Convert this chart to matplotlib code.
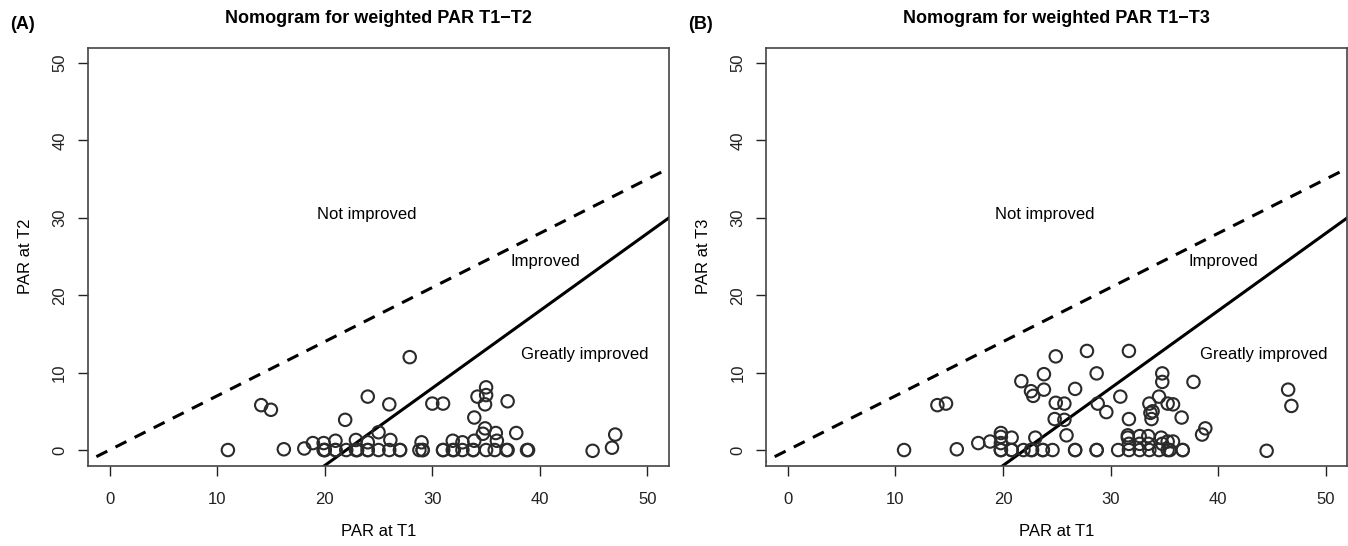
import matplotlib
matplotlib.use("Agg")
import matplotlib.pyplot as plt

plt.rcParams['font.family'] = ['Liberation Sans', 'DejaVu Sans']

# Panel A: PAR at T1 vs PAR at T2
t1_a = [11, 14.1, 15, 16.2, 18.1, 18.9, 19.9, 21, 21.9, 22.9,
        24, 26, 27.9, 30, 31, 34.2, 35, 35, 34.9, 33.9,
        34.9, 34.7, 25, 24, 26.1, 29, 31.9, 32.8, 33.9, 37,
        35.9, 36, 37.8, 47, 46.7, 44.9,
        19.9, 20, 20, 21, 21, 22, 22.9, 23, 23, 24,
        24, 25, 26, 27, 27, 28.8, 29.1, 29.1, 31, 31,
        31.9, 32, 32.8, 33.8, 33.8, 35, 35.8, 36.9, 37, 38.8, 38.9]
t2_a = [0, 5.8, 5.2, 0.1, 0.2, 0.9, 0.9, 1.2, 3.9, 1.3,
        6.9, 5.9, 12.0, 6.0, 6.0, 6.9, 8.1, 7.1, 5.9, 4.2,
        2.8, 2.1, 2.3, 1.0, 1.3, 1.0, 1.2, 1.0, 1.2, 6.3,
        2.2, 1.2, 2.2, 2.0, 0.3, -0.1,
        0, 0, 0, 0, 0, 0, 0, 0, 0, 0,
        0, 0, 0, 0, 0, 0, 0, 0, 0, 0,
        0, 0, 0, 0, 0, 0, 0, 0, 0, 0, 0]

# Panel B: PAR at T1 vs PAR at T3
t1_b = [10.8, 13.9, 14.7, 15.7, 17.7, 18.8, 19.8, 19.8, 19.8, 20.8,
        21.7, 22.6, 22.8, 23.8, 23.8, 24.9, 27.8, 31.7, 28.7, 26.7,
        24.9, 25.7, 28.8, 29.6, 30.9, 24.8, 25.7, 25.9, 23, 31.7,
        31.6, 31.6, 32.7, 33.5, 33.6, 33.9, 33.7, 33.8, 34.5, 34.8,
        34.8, 35.3, 34.7, 31.7, 32.7, 33.5, 34.8, 37.7, 35.8, 36.6,
        38.8, 38.5, 35.8, 35.3, 44.5, 46.5, 46.8,
        19.8, 19.8, 20.8, 20.8, 21.9, 22.6, 22.7, 23.7, 23.7, 24.6,
        26.7, 26.7, 28.7, 28.7, 30.7, 31.7, 32.7, 33.6, 34.5, 35.3,
        35.5, 36.7, 36.7]
t3_b = [0, 5.8, 6.0, 0.1, 0.9, 1.1, 2.2, 1.7, 0.9, 1.6,
        8.9, 7.6, 7.0, 9.8, 7.8, 12.1, 12.8, 12.8, 9.9, 7.9,
        6.1, 6.0, 6.0, 4.9, 6.9, 4.0, 3.9, 1.9, 1.6, 4.0,
        1.9, 1.6, 1.8, 1.8, 6.0, 5.0, 4.8, 4.0, 6.9, 9.9,
        8.8, 6.0, 1.6, 0.8, 0.8, 0.8, 0.8, 8.8, 5.9, 4.2,
        2.8, 2.0, 1.1, 1.1, -0.1, 7.8, 5.7,
        0, 0, 0, 0, 0, 0, 0, 0, 0, 0,
        0, 0, 0, 0, 0, 0, 0, 0, 0, 0,
        0, 0, 0]

ticks = [0, 10, 20, 30, 40, 50]
panels = [
    ("(A)", "Nomogram for weighted PAR T1\u2212T2", "PAR at T2", t1_a, t2_a),
    ("(B)", "Nomogram for weighted PAR T1\u2212T3", "PAR at T3", t1_b, t3_b),
]

fig = plt.figure(figsize=(13.48, 5.46), dpi=100)
lefts = [0.0653, 0.5685]

for left, (tag, title, ylab, x, y) in zip(lefts, panels):
    ax = fig.add_axes([left, 0.1474, 0.431, 0.7656])
    ax.set_xlim(-2, 52)
    ax.set_ylim(-2, 52)

    # 30% reduction line and 22-point reduction line
    xs = [-3, 53]
    ax.plot(xs, [0.7 * v for v in xs], color='black', lw=2.2, ls=(0, (4, 3)))
    ax.plot(xs, [v - 22 for v in xs], color='black', lw=2.2)

    ax.scatter(x, y, s=80, facecolors='none', edgecolors='#2a2a2a', linewidths=1.5, zorder=3)

    ax.text(23.9, 30.4, "Not improved", ha='center', va='center', fontsize=12)
    ax.text(40.5, 24.3, "Improved", ha='center', va='center', fontsize=12)
    ax.text(44.2, 12.3, "Greatly improved", ha='center', va='center', fontsize=12)

    ax.set_xticks(ticks)
    ax.set_yticks(ticks)
    ax.set_yticklabels([str(t) for t in ticks], rotation=90, va='center')
    ax.tick_params(axis='x', direction='out', length=7, width=1, labelsize=12, pad=12, colors='#222222')
    ax.tick_params(axis='y', direction='out', length=7, width=1, labelsize=12, pad=8, colors='#222222')
    for sp in ax.spines.values():
        sp.set_linewidth(1.2)
        sp.set_color('#444444')

    ax.set_xlabel("PAR at T1", fontsize=12, labelpad=12)
    ax.set_ylabel(ylab, fontsize=12, labelpad=14)
    ax.set_title(title, fontsize=13, fontweight='bold', pad=18)

    fig.text(left - 0.058, 0.955, tag, fontsize=13, fontweight='bold', ha='left', va='center')

fig.savefig("out.png", dpi=100)
